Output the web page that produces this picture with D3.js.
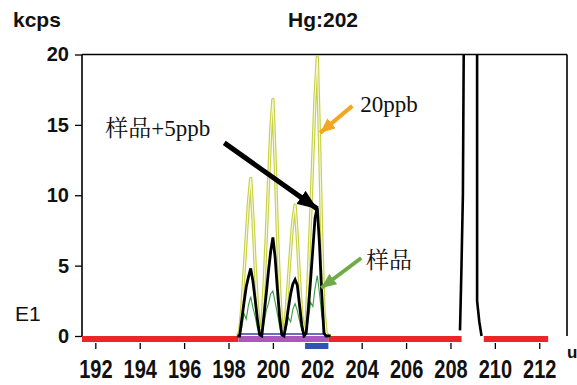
<!DOCTYPE html>
<html>
<head>
<meta charset="utf-8">
<script src="https://cdn.jsdelivr.net/npm/d3@7"></script>
<style>
  body { margin: 0; background: #fff; }
  svg { display: block; }
</style>
</head>
<body>
<div id="chart"></div>
<script>
// mass axis (u) sample points for the Hg peak scans
var MASS = [198.4, 198.5, 198.6, 198.7, 198.8, 198.9, 199.0, 199.1, 199.2, 199.3,
            199.4, 199.5, 199.6, 199.7, 199.8, 199.9, 200.0, 200.1, 200.2, 200.3,
            200.4, 200.5, 200.6, 200.7, 200.8, 200.9, 201.0, 201.1, 201.2, 201.3,
            201.4, 201.5, 201.6, 201.7, 201.8, 201.9, 202.0, 202.1, 202.2, 202.3,
            202.4, 202.5, 202.6];

// 20ppb standard (kcps)
var STD_20PPB = [0, 0.3, 2.0, 4.5, 7.0, 9.5, 11.2, 8.4, 5.0, 2.2,
                 0.5, 0.6, 3.5, 7.0, 10.8, 14.5, 16.8, 12.5, 7.5, 3.4,
                 0.6, 0.3, 1.8, 4.0, 6.2, 8.2, 9.3, 7.0, 4.0, 1.5,
                 0.3, 1.0, 4.5, 8.5, 12.8, 17.0, 19.8, 14.0, 7.0, 1.8,
                 0.2, 0, 0];

// sample + 5ppb spike
var SPIKED = [0, 0, 1.2, 2.4, 3.5, 4.2, 4.8, 3.9, 2.6, 1.2,
              0.1, 0, 1.5, 3.0, 4.6, 6.0, 7.0, 5.6, 3.4, 1.4,
              0.1, 0, 0.9, 2.0, 3.0, 3.7, 4.0, 3.6, 2.2, 0.8,
              0, 0.2, 2.0, 4.0, 6.2, 8.4, 9.1, 6.5, 3.0, 0.2,
              0, 0, 0];

// sample
var SAMPLE = [0, 0, 0.6, 1.6, 1.2, 2.2, 2.8, 2.0, 1.4, 0.6,
              0.1, 0.1, 0.9, 1.8, 2.3, 3.0, 3.2, 2.4, 1.6, 0.7,
              0.1, 0, 0.5, 1.3, 1.0, 1.9, 2.3, 1.8, 1.1, 0.4,
              0.1, 0.2, 1.2, 2.4, 2.1, 3.4, 4.3, 3.0, 1.5, 0.3,
              0, 0, 0];

// off-scale peak near 209 u
var BIG_MASS = [208.43, 208.49, 208.56, 208.6, 208.9, 209.2, 209.2, 209.3, 209.4];
var BIG_KCPS = [0.4, 4.5, 10, 21, 60, 21, 2.5, 1.0, 0];

// baseline trace through the scan window
var BASE_MASS = [198.5, 202.5];
var BASE_KCPS = [0.15, 0.15];

// acquisition windows along the mass axis
var WIN_FROM = [191.4, 198.45, 202.5, 209.5];
var WIN_TO   = [198.45, 202.5, 208.5, 212.4];
var WIN_KIND = ["skip", "scan", "skip", "skip"];
var INTEG_FROM = 201.45, INTEG_TO = 202.5;

var Y_TICKS = [0, 5, 10, 15, 20];
var X_TICKS = [192, 194, 196, 198, 200, 202, 204, 206, 208, 210, 212];

var W = 577, H = 385,
    LEFT = 82, RIGHT = 567, TOP = 54.5, BOTTOM = 336;

var x = d3.scaleLinear().domain([191.4, 213.25]).range([LEFT, RIGHT]);
var y = d3.scaleLinear().domain([0, 20]).range([BOTTOM, TOP]);

var svg = d3.select("#chart").append("svg")
  .attr("width", W)
  .attr("height", H)
  .style("background", "#fff");

var defs = svg.append("defs");
defs.append("clipPath").attr("id", "plot")
  .append("rect")
  .attr("x", LEFT).attr("y", TOP)
  .attr("width", RIGHT - LEFT).attr("height", BOTTOM - TOP + 2);

function arrowMarker(id, color, len, wid) {
  defs.append("marker")
    .attr("id", id)
    .attr("markerUnits", "userSpaceOnUse")
    .attr("viewBox", "0 0 " + len + " " + wid)
    .attr("refX", len).attr("refY", wid / 2)
    .attr("markerWidth", len).attr("markerHeight", wid)
    .attr("orient", "auto")
    .append("path")
    .attr("d", "M0,0L" + len + "," + (wid / 2) + "L0," + wid + "Z")
    .attr("fill", color);
}
arrowMarker("head-orange", "#f4a622", 15, 13);
arrowMarker("head-black", "#000", 20, 16);
arrowMarker("head-green", "#6fac47", 15, 13);

// frame
var frame = svg.append("g").attr("stroke", "#000").attr("stroke-width", 1.6);
frame.append("line").attr("x1", LEFT).attr("x2", RIGHT).attr("y1", TOP).attr("y2", TOP);
frame.append("line").attr("x1", RIGHT).attr("x2", RIGHT).attr("y1", TOP).attr("y2", BOTTOM);
frame.append("line").attr("x1", LEFT).attr("x2", LEFT).attr("y1", TOP).attr("y2", BOTTOM);

// y axis
var yAxis = svg.append("g")
  .attr("transform", "translate(" + LEFT + ",0)")
  .call(d3.axisLeft(y).tickValues(Y_TICKS).tickSize(7).tickPadding(6).tickFormat(d3.format("d")));
yAxis.select(".domain").remove();
yAxis.selectAll(".tick line").attr("stroke", "#000").attr("stroke-width", 1.3);
yAxis.selectAll(".tick text")
  .attr("fill", "#111")
  .style("font-family", "'Liberation Sans', Arial, sans-serif")
  .style("font-weight", "bold")
  .style("font-size", "20px");

// x axis
var xAxis = svg.append("g")
  .attr("transform", "translate(0," + (BOTTOM + 7) + ")")
  .call(d3.axisBottom(x).tickValues(X_TICKS).tickSize(6).tickPadding(11).tickFormat(d3.format("d")));
xAxis.select(".domain").remove();
xAxis.selectAll(".tick line").attr("stroke", "#000").attr("stroke-width", 1.3);
xAxis.selectAll(".tick text")
  .attr("fill", "#111")
  .attr("transform", "scale(0.8,1)")
  .style("font-family", "'Liberation Sans', Arial, sans-serif")
  .style("font-weight", "bold")
  .style("font-size", "25px");

// acquisition window bar
var bar = svg.append("g");
WIN_FROM.forEach(function(f, i) {
  bar.append("rect")
    .attr("x", x(f)).attr("y", BOTTOM)
    .attr("width", x(WIN_TO[i]) - x(f)).attr("height", 6)
    .attr("fill", WIN_KIND[i] == "scan" ? "#a958bf" : "#e8262b");
});
bar.append("rect")
  .attr("x", x(INTEG_FROM)).attr("y", BOTTOM + 7)
  .attr("width", x(INTEG_TO) - x(INTEG_FROM)).attr("height", 6)
  .attr("fill", "#2f55b3");

// traces
var plot = svg.append("g").attr("clip-path", "url(#plot)");
var line = d3.line()
  .x(function(d) { return x(d[0]); })
  .y(function(d) { return y(d[1]); });

function pairs(xs, ys) {
  return xs.map(function(m, i) { return [m, ys[i]]; });
}

plot.append("path").datum(pairs(BASE_MASS, BASE_KCPS))
  .attr("d", line).attr("fill", "none")
  .attr("stroke", "#3b3ba6").attr("stroke-width", 1.5);

// 20ppb drawn as a pale double line
plot.append("path").datum(pairs(MASS, STD_20PPB))
  .attr("d", line).attr("fill", "none")
  .attr("stroke", "#c9d146").attr("stroke-width", 3.4)
  .attr("stroke-linejoin", "round");
plot.append("path").datum(pairs(MASS, STD_20PPB))
  .attr("d", line).attr("fill", "none")
  .attr("stroke", "#f6f8dc").attr("stroke-width", 1.1)
  .attr("stroke-linejoin", "round");

plot.append("path").datum(pairs(MASS, SAMPLE))
  .attr("d", line).attr("fill", "none")
  .attr("stroke", "#3a9e45").attr("stroke-width", 1.1);

plot.append("path").datum(pairs(MASS, SPIKED))
  .attr("d", line).attr("fill", "none")
  .attr("stroke", "#000").attr("stroke-width", 2.8)
  .attr("stroke-linejoin", "miter");

plot.append("path").datum(pairs(BIG_MASS, BIG_KCPS))
  .attr("d", line).attr("fill", "none")
  .attr("stroke", "#000").attr("stroke-width", 2.6);

// titles
var sans = "'Liberation Sans', Arial, sans-serif";
svg.append("text").attr("x", 13).attr("y", 27).text("kcps")
  .style("font-family", sans).style("font-weight", "bold").style("font-size", "21px").attr("fill", "#111");
svg.append("text").attr("x", 323).attr("y", 27).attr("text-anchor", "middle").text("Hg:202")
  .style("font-family", sans).style("font-weight", "bold").style("font-size", "21px").attr("fill", "#111");
svg.append("text").attr("x", 15).attr("y", 321).text("E1")
  .style("font-family", sans).style("font-size", "21px").attr("fill", "#111");
svg.append("text").attr("x", 567).attr("y", 358).text("u")
  .style("font-family", sans).style("font-weight", "bold").style("font-size", "17px").attr("fill", "#111");

// annotations (positions in u / kcps)
var serif = "'Liberation Serif', 'Times New Roman', 'Noto Serif CJK SC', 'Noto Sans CJK SC', serif";
function note(u, v, label) {
  svg.append("text").attr("x", x(u)).attr("y", y(v)).text(label)
    .style("font-family", serif).style("font-size", "23px").attr("fill", "#111");
}
function arrow(u1, v1, u2, v2, color, width, head) {
  svg.append("line")
    .attr("x1", x(u1)).attr("y1", y(v1))
    .attr("x2", x(u2)).attr("y2", y(v2))
    .attr("stroke", color).attr("stroke-width", width)
    .attr("marker-end", "url(#" + head + ")");
}
note(203.94, 15.9, "20ppb");
note(192.45, 14.2, "样品+5ppb");
note(204.2, 4.83, "样品");
arrow(203.58, 16.35, 202.13, 14.43, "#f4a622", 4, "head-orange");
arrow(197.81, 13.72, 202.0, 9.03, "#000", 5, "head-black");
arrow(203.98, 5.54, 202.18, 3.41, "#6fac47", 4, "head-green");
</script>
</body>
</html>
